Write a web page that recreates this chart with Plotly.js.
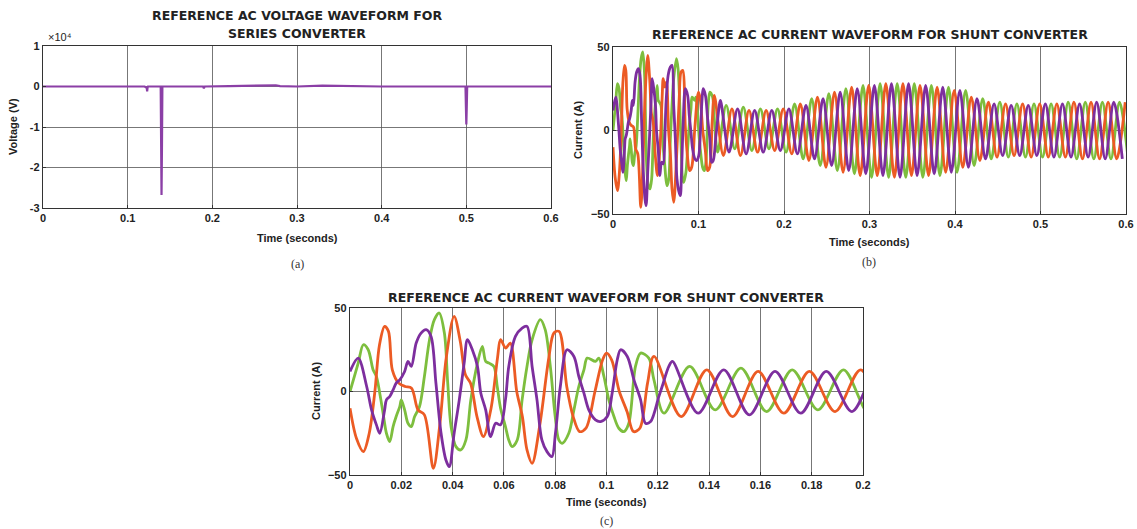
<!DOCTYPE html>
<html><head><meta charset="utf-8">
<script src="https://cdn.plot.ly/plotly-3.0.1.min.js"></script>
<style>html,body{margin:0;padding:0;background:#fff;} #chart{width:1137px;height:529px;}</style>
</head><body><div id="chart"></div>
<script>
// ---------------- DATA ----------------
// (a) series converter reference voltage (V)
const tVolt = [0, 0.03, 0.06, 0.09, 0.12, 0.1225, 0.123, 0.1235, 0.124, 0.139, 0.1395, 0.140, 0.1405, 0.141, 0.16, 0.189, 0.19, 0.191, 0.22, 0.25, 0.275, 0.28, 0.3, 0.33, 0.36, 0.4, 0.45, 0.499, 0.4995, 0.5, 0.5005, 0.501, 0.55, 0.6];
const vVolt = [0, 0, 0, 0, 0, -300, -1200, -300, 0, 0, -15000, -26800, -15000, 0, 0, 0, -400, 0, 100, 200, 300, 100, 0, 200, 100, 0, 0, 0, -5000, -9400, -5000, 0, 0, 0];

// shunt converter reference currents (A): transient knots 0 - 0.12 s
const tOrange = [0, 0.0025, 0.0052, 0.0075, 0.0097, 0.0115, 0.0135, 0.015, 0.0165, 0.019, 0.0215, 0.024, 0.0265, 0.029, 0.0325, 0.035, 0.0375, 0.0406, 0.043, 0.045, 0.047, 0.0495, 0.052, 0.055, 0.0575, 0.0587, 0.0607, 0.0625, 0.065, 0.0672, 0.069, 0.071, 0.074, 0.0775, 0.0795, 0.0815, 0.0845, 0.087, 0.0895, 0.092, 0.0955, 0.0985, 0.1, 0.102, 0.105, 0.108, 0.1105, 0.113, 0.116, 0.1185];
const vOrange = [-10, -28, -36, -25, 0, 28, 39, 36, 13, 5, 3, 2, -11, -14, -46, -20, 20, 45, 30, 10, 5, -15, -27, -10, 20, 31, 26, 29, 0, -15, -35, -43, -20, 20, 35, 36, 3, -15, -24, -22, 0, 19, 23, 19, 0, -12, -24, -22, 5, 21];

const tPurple = [0, 0.0032, 0.0065, 0.0084, 0.0103, 0.0116, 0.0135, 0.0142, 0.0155, 0.0168, 0.018, 0.0194, 0.0213, 0.0226, 0.0239, 0.0258, 0.0277, 0.0297, 0.0316, 0.0335, 0.0355, 0.0374, 0.0387, 0.0406, 0.0426, 0.0445, 0.0458, 0.0477, 0.0497, 0.051, 0.0529, 0.0548, 0.0568, 0.0587, 0.0606, 0.0619, 0.0645, 0.0671, 0.069, 0.071, 0.0729, 0.0748, 0.0768, 0.0787, 0.0801, 0.082, 0.0846, 0.0873, 0.0892, 0.0912, 0.0931, 0.0957, 0.0977, 0.1003, 0.1022, 0.1042, 0.1055, 0.1081, 0.1107, 0.1133, 0.1152, 0.1172, 0.1204, 0.1217, 0.1243, 0.1257];
const vPurple = [12, 20, 3, -11, -20, -25, -11, -5, -3, 1, 5, 7, 12, 18, 15, 29, 35, 37, 33, 5, -25, -41, -45, -25, -5, 17, 31, 25, 15, -1, -11, -27, -19, -20, -5, 15, 33, 38, 39, 15, -5, -29, -36, -39, -25, 3, 25, 21, 9, -1, -11, -17, -18, -15, -1, 19, 25, 21, 7, -5, -19, -18, -3, 3, 15, 18];

const tGreen = [0, 0.0032, 0.0052, 0.0071, 0.009, 0.0103, 0.0116, 0.0129, 0.0142, 0.0155, 0.0168, 0.018, 0.0194, 0.02, 0.0213, 0.0226, 0.0239, 0.0252, 0.0271, 0.029, 0.031, 0.0329, 0.0348, 0.0368, 0.0381, 0.0394, 0.0413, 0.0432, 0.0452, 0.0471, 0.0497, 0.0516, 0.0529, 0.0542, 0.0561, 0.0574, 0.0587, 0.0606, 0.0619, 0.0632, 0.0652, 0.0671, 0.069, 0.071, 0.0742, 0.0761, 0.0781, 0.08, 0.0814, 0.0827, 0.0853, 0.0873, 0.0892, 0.0912, 0.0925, 0.0957, 0.097, 0.099, 0.1009, 0.1029, 0.1048, 0.1068, 0.1087, 0.1113, 0.1133, 0.1165, 0.1185];
const vGreen = [0, 17, 28, 25, 13, 9, -1, -13, -25, -30, -21, -15, -9, -5, -11, -19, -21, -15, -9, 9, 31, 43, 47, 35, 5, -21, -33, -35, -29, -5, 17, 27, 18, 17, 15, 3, -10, -21, -29, -33, -29, -5, 15, 31, 43, 37, 15, -15, -29, -31, -25, -11, 3, 13, 20, 18, 20, 9, -5, -15, -22, -24, -19, 15, 23, 20, 7];

// steady part: successive half-cycle extremes (50 Hz -> one every 0.01 s)
const halfCycle = 0.01;
const greenStart = 0.1224, orangeStart = 0.1291, purpleStart = 0.1357;
const greenPeaks  = [-13, 15, -11, 14, -12, 13, -11, 13, -13, 16, -17, 19, -21, 22, -24, 25, -26, 27, -28, 28, -28, 28, -28, 28, -28, 27, -27, 26, -25, 24, -21, 19, -17, 17, -16, 16, -16, 16, -16, 16, -16, 17, -17, 17, -17, 17, -17, 17, -17];
const orangePeaks = [-15, 13, -15, 12, -13, 12, -12, 13, -14, 16, -18, 20, -22, 23, -25, 26, -27, 27, -27, 28, -28, 28, -27, 27, -27, 26, -25, 24, -22, 20, -18, 17, -16, 16, -15, 16, -16, 16, -16, 16, -16, 17, -17, 17, -17, 17, -17, 17];
const purplePeaks = [-13, 13, -14, 12, -13, 12, -12, 13, -14, 15, -17, 19, -21, 23, -24, 25, -26, 27, -27, 28, -28, 28, -27, 27, -26, 26, -25, 24, -22, 19, -17, 16, -15, 15, -15, 15, -15, 16, -16, 16, -16, 16, -16, 17, -17, 17, -17];

// tick labels
const voltTicks = [-30000, -20000, -10000, 0, 10000];
const voltTickText = ['-3', '-2', '-1', '0', '1'];
const currTicks = [-50, 0, 50];

// ---------------- BUILD ----------------
function phase(tE, vE, start, peaks) {
  const x = tE.slice(), y = vE.slice();
  peaks.forEach((p, i) => { x.push(start + i * halfCycle); y.push(p); });
  return {x, y};
}
const G = phase(tGreen, vGreen, greenStart, greenPeaks);
const O = phase(tOrange, vOrange, orangeStart, orangePeaks);
const P = phase(tPurple, vPurple, purpleStart, purplePeaks);

const cG = '#7DBE3E', cO = '#EC5B24', cP = '#7D2E9E';
const W = 1137, H = 529;
const px = v => v / W, py = v => 1 - v / H;
const FONT = 'Liberation Sans, Arial, sans-serif';
const TFONT = 'DejaVu Sans, Liberation Sans, sans-serif';

function cur(d, col, xa, ya, w) {
  return {x: d.x, y: d.y, xaxis: xa, yaxis: ya, type: 'scatter', mode: 'lines',
    line: {color: col, width: w, shape: 'spline', smoothing: 0.9}, hoverinfo: 'skip', showlegend: false};
}
const traces = [
  {x: tVolt, y: vVolt, xaxis: 'x', yaxis: 'y', type: 'scatter', mode: 'lines',
   line: {color: '#8B3FA6', width: 2.2}, showlegend: false, hoverinfo: 'skip'},
  cur(G, cG, 'x2', 'y2', 2.8), cur(O, cO, 'x2', 'y2', 2.8), cur(P, cP, 'x2', 'y2', 2.8),
  cur(G, cG, 'x3', 'y3', 2.8), cur(O, cO, 'x3', 'y3', 2.8), cur(P, cP, 'x3', 'y3', 2.8)
];

const axBase = {showline: true, mirror: true, linecolor: '#333', linewidth: 1.2,
  showgrid: true, gridcolor: '#555', gridwidth: 0.8, zeroline: false,
  ticks: 'inside', ticklen: 3, tickcolor: '#333',
  tickfont: {family: FONT, size: 11, color: '#222', weight: 'bold'}, fixedrange: true};

const layout = {
  width: W, height: H, margin: {l: 0, r: 0, t: 0, b: 0},
  paper_bgcolor: '#fff', plot_bgcolor: '#fff', showlegend: false,
  xaxis: Object.assign({}, axBase, {domain: [px(43), px(551)], anchor: 'y', range: [0, 0.6], dtick: 0.1}),
  yaxis: Object.assign({}, axBase, {domain: [py(208), py(46)], anchor: 'x', range: [-30000, 10000], tickvals: voltTicks, ticktext: voltTickText}),
  xaxis2: Object.assign({}, axBase, {domain: [px(613), px(1126)], anchor: 'y2', range: [0, 0.6], dtick: 0.1}),
  yaxis2: Object.assign({}, axBase, {domain: [py(214), py(47)], anchor: 'x2', range: [-50, 50], tickvals: currTicks}),
  xaxis3: Object.assign({}, axBase, {domain: [px(350), px(863)], anchor: 'y3', range: [0, 0.2], dtick: 0.02}),
  yaxis3: Object.assign({}, axBase, {domain: [py(475), py(308)], anchor: 'x3', range: [-50, 50], tickvals: currTicks}),
  annotations: []
};
function ann(text, x, y, size, opts) {
  layout.annotations.push(Object.assign({text: text, x: px(x), y: py(y), xref: 'paper', yref: 'paper',
    showarrow: false, xanchor: 'center', yanchor: 'middle',
    font: {family: FONT, size: size, color: '#222', weight: 'bold'}}, opts || {}));
}
const tf = {font: {family: TFONT, size: 12.5, color: '#222', weight: 'bold'}};
ann('REFERENCE AC VOLTAGE WAVEFORM FOR', 297, 15, 12.5, tf);
ann('SERIES CONVERTER', 297, 33, 12.5, tf);
ann('REFERENCE AC CURRENT WAVEFORM FOR SHUNT CONVERTER', 870, 35, 12.5, tf);
ann('REFERENCE AC CURRENT WAVEFORM FOR SHUNT CONVERTER', 606, 297, 12.5, tf);
ann('Time (seconds)', 297, 238, 11);
ann('Time (seconds)', 869, 242, 11);
ann('Time (seconds)', 606, 502, 11);
ann('Voltage (V)', 13, 127, 11, {textangle: -90});
ann('Current (A)', 578, 130, 11, {textangle: -90});
ann('Current (A)', 316, 391, 11, {textangle: -90});
ann('×10⁴', 60, 37, 11, {font: {family: FONT, size: 11, color: '#222'}});
const capFont = {family: 'Liberation Serif, DejaVu Serif, serif', size: 12, color: '#333'};
ann('(a)', 297, 264, 12, {font: capFont});
ann('(b)', 869, 262, 12, {font: capFont});
ann('(c)', 606, 521, 12, {font: capFont});

Plotly.newPlot('chart', traces, layout, {staticPlot: true, displayModeBar: false});
</script></body></html>
